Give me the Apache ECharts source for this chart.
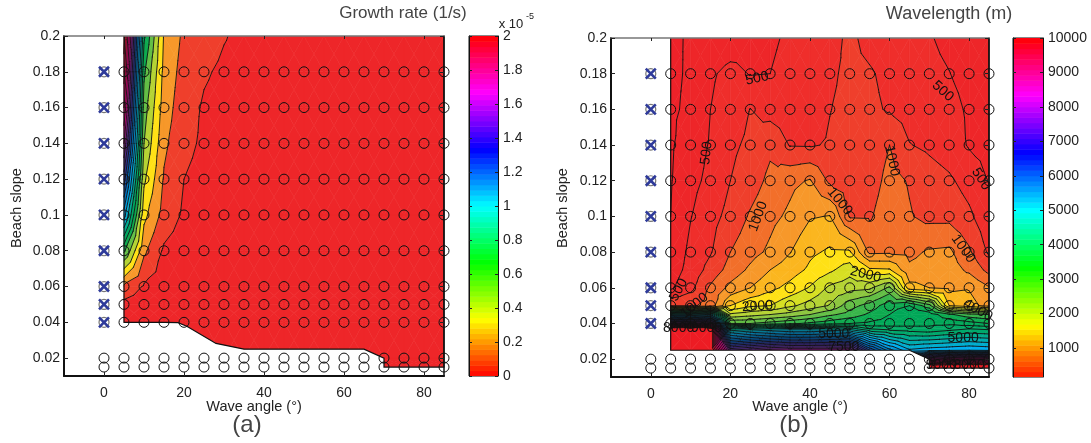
<!DOCTYPE html>
<html><head><meta charset="utf-8">
<style>html,body{margin:0;padding:0;background:#fff}#c{width:1091px;height:443px}</style>
<script src="https://cdn.jsdelivr.net/npm/echarts@6/dist/echarts.min.js"></script>
</head><body><div id="c"></div>
<script>
// ---------- data ----------
const waveAngles = [5,10,15,20,25,30,35,40,45,50,55,60,65,70,75,80,85];
const probeAngles = [0,5,10,15,20,25,30,35,40,45,50,55,60,65,70,75,80,85];
const probeSlopes = [0.015,0.02,0.04,0.05,0.06,0.08,0.1,0.12,0.14,0.16,0.18];
const stableSlopes = [0.04,0.05,0.06,0.08,0.1,0.12,0.14,0.16,0.18];

// (a) growth rate, x 1e-5 1/s
const growthSlopes = [0.015,0.02,0.04,0.05,0.06,0.08,0.1,0.12,0.14,0.16,0.18,0.2];
const g015 = [.03,.03,.03,.03,.03,.03,.03,.03,.03,.03,.03,.03,.03,.03,.03,.03,.03];
const g020 = [.03,.03,.03,.03,.03,.03,.03,.03,.03,.03,.03,.03,.03,.03,.03,.03,.03];
const g040 = [.04,.04,.04,.04,.04,.03,.03,.03,.03,.03,.03,.03,.03,.03,.03,.03,.03];
const g050 = [.07,.05,.04,.04,.04,.03,.03,.03,.03,.03,.03,.03,.03,.03,.03,.03,.03];
const g060 = [.18,.09,.05,.04,.04,.03,.03,.03,.03,.03,.03,.03,.03,.03,.03,.03,.03];
const g080 = [.62,.22,.085,.05,.04,.04,.03,.03,.03,.03,.03,.03,.03,.03,.03,.03,.03];
const g100 = [1.05,.33,.16,.085,.06,.04,.04,.03,.03,.03,.03,.03,.03,.03,.03,.03,.03];
const g120 = [1.35,.42,.19,.1,.07,.05,.04,.04,.03,.03,.03,.03,.03,.03,.03,.03,.03];
const g140 = [1.6,.5,.22,.125,.085,.06,.05,.04,.04,.03,.03,.03,.03,.03,.03,.03,.03];
const g160 = [1.8,.55,.25,.14,.09,.07,.06,.05,.04,.04,.03,.03,.03,.03,.03,.03,.03];
const g180 = [1.95,.62,.27,.16,.11,.085,.07,.05,.04,.04,.04,.03,.03,.03,.03,.03,.03];
const g200 = [2.05,.72,.29,.18,.14,.105,.08,.06,.05,.04,.04,.03,.03,.03,.03,.03,.03];
const growthRows = [g015,g020,g040,g050,g060,g080,g100,g120,g140,g160,g180,g200];
const growthLevels = [.1,.2,.3,.4,.5,.6,.7,.8,.9,1,1.1,1.2,1.3,1.4,1.5,1.6,1.7,1.8,1.9,2];
const growthEdgeAngles = [5,15,18.5,20.7,28,35,65,70,70,85];
const growthEdgeSlopes = [.04,.04,.0398,.0378,.0282,.025,.025,.02,.015,.015];

// (b) wavelength, m
const waveSlopes = [0.015,0.02,0.025,0.037,0.04,0.045,0.05,0.06,0.07,0.08,0.1,0.12,0.14,0.16,0.18,0.2];
const w015 = [10500,10500,10500,10500,10500,10500,10500,10500,10500,10500,10500,10500,10500,11000,11000,11000,11000];
const w020 = [10500,10500,10500,8000,8200,8300,8400,8400,8400,8400,7000,6200,5800,8000,8300,8400,8400];
const w025 = [10500,10500,10500,7500,7700,7900,8000,8000,8000,8000,6500,5600,5050,5150,5200,5250,5200];
const w037 = [10500,10500,10500,4200,4400,4500,4600,4600,4500,4400,4000,3900,3850,3800,3900,4000,3950];
const w040 = [8000,8000,8000,3000,3000,3100,3200,3300,3400,3500,3550,3600,3650,3700,3700,3600,3500];
const w045 = [4600,4600,4800,2300,2400,2500,2600,2750,2950,3100,3300,3500,3700,3650,3300,3100,3000];
const w050 = [950,950,1100,1750,1950,2000,2200,2350,2520,2900,3100,3400,3500,3100,1750,1600,1400];
const w060 = [460,680,1040,1320,1500,1680,1830,2020,2300,2400,2450,2800,1600,1500,1450,1480,1270];
const w070 = [370,590,840,1100,1300,1500,1630,1800,1950,2150,1800,1780,1300,1350,1370,1200,920];
const w080 = [310,560,730,1000,1160,1300,1490,1700,1790,1780,1200,1210,1190,1280,1300,1040,710];
const w100 = [250,490,660,830,1030,1180,1300,1480,1510,980,970,1150,1020,930,930,800,570];
const w120 = [235,430,560,750,880,1060,1190,1270,950,850,880,1080,980,870,790,650,490];
const w140 = [220,380,520,700,800,950,735,730,770,830,830,1000,760,700,620,480,420];
const w160 = [210,300,500,610,755,650,620,640,745,800,790,730,640,590,570,470,400];
const w180 = [205,280,470,560,490,500,540,600,720,790,770,700,620,550,505,430,380];
const w200 = [200,280,340,380,420,480,520,580,680,790,690,640,590,515,450,400,350];
const waveRows = [w015,w020,w025,w037,w040,w045,w050,w060,w070,w080,w100,w120,w140,w160,w180,w200];
const waveLevels = [250,500,750,1000,1250,1500,1750,2000,2250,2500,2750,3000,3250,3500,3750,4000,4250,4500,4750,5000,5250,5500,5750,6000,6250,6500,6750,7000,7250,7500,7750,8000,8250,8500,8750,9000,9250,9500,9750,10000];
const waveEdgeAngles = [5,65,70,70,85];
const waveEdgeSlopes = [.025,.025,.02,.015,.015];

// contour labels of panel (b)
const labelTexts  = ['500','500','500','500','500','1000','1000','1000','1000','1000','2000','2000','4000','5000','7500','5000','8000','9000','9000','8000'];
const labelAngles = [26.7,14,73.4,83,7,60.6,27,47.5,78.5,11,54,26.8,82.2,46,48.5,78.5,7,14,73,80];
const labelSlopes = [.1773,.1355,.1702,.1209,.0589,.1311,.1,.1084,.0819,.05,.0674,.0496,.0474,.0343,.027,.0319,.0373,.0373,.0164,.0164];

const titleA = 'Growth rate (1/s)', titleB = 'Wavelength (m)';
const xName = 'Wave angle (°)', yName = 'Beach slope';
const xTicks = [0,20,40,60,80];
const yTicks = [0.02,0.04,0.06,0.08,0.1,0.12,0.14,0.16,0.18,0.2];
const barTicksA = [0,0.2,0.4,0.6,0.8,1,1.2,1.4,1.6,1.8,2];
const barTicksB = [1000,2000,3000,4000,5000,6000,7000,8000,9000,10000];

// ---------- colours ----------
const paletteV = [0,250,500,750,1000,1250,1500,1750,2000,2250,2500,3000,3333,4000,5000,5500,6000,6667,7500,8333,9000,10000];
const paletteC = ['#EE2229','#EE2629','#EF2E2B','#EF3F2C','#F26F2A','#F7982A','#FBB61F','#FFE116','#D7DF23','#B5D334','#8DC63F','#39B54A','#00A651','#00A86B','#00AEEF','#0081C6','#0060B0','#2E3192','#662D91','#EC008C','#EC0070','#ED1C24'];
function hex(c){return [1,3,5].map(i=>parseInt(c.substr(i,2),16));}
function paletteAt(v){
  if(v<=paletteV[0]) return paletteC[0];
  for(let i=1;i<paletteV.length;i++){
    if(v<=paletteV[i]){
      const t=(v-paletteV[i-1])/(paletteV[i]-paletteV[i-1]),a=hex(paletteC[i-1]),b=hex(paletteC[i]);
      return 'rgb('+a.map((x,k)=>Math.round(x+(b[k]-x)*t)).join(',')+')';
    }
  }
  return paletteC[paletteC.length-1];
}
function hsv(h){
  const s=h*6,i=Math.floor(s)%6,f=s-Math.floor(s);
  const r=[[1,f,0],[1-f,1,0],[0,1,f],[0,1-f,1],[f,0,1],[1,0,1-f]][i];
  return 'rgb('+r.map(x=>Math.round(x*255)).join(',')+')';
}

// ---------- contour geometry ----------
function triangles(xs,ys,rows){
  const out=[];
  for(let j=0;j<ys.length-1;j++)for(let i=0;i<xs.length-1;i++){
    const p=[{x:xs[i],y:ys[j],v:rows[j][i]},{x:xs[i+1],y:ys[j],v:rows[j][i+1]},
             {x:xs[i+1],y:ys[j+1],v:rows[j+1][i+1]},{x:xs[i],y:ys[j+1],v:rows[j+1][i]}];
    const c={x:(xs[i]+xs[i+1])/2,y:(ys[j]+ys[j+1])/2,v:(p[0].v+p[1].v+p[2].v+p[3].v)/4};
    for(let k=0;k<4;k++)out.push([p[k],p[(k+1)%4],c]);
  }
  return out;
}
function cut(a,b,L){const t=(L-a.v)/(b.v-a.v);return {x:a.x+(b.x-a.x)*t,y:a.y+(b.y-a.y)*t,v:L};}
function clip(poly,L,keepAbove){
  const o=[];
  for(let i=0;i<poly.length;i++){
    const a=poly[i],b=poly[(i+1)%poly.length];
    const ia=keepAbove?a.v>=L:a.v<L, ib=keepAbove?b.v>=L:b.v<L;
    if(ia)o.push(a);
    if(ia!==ib)o.push(cut(a,b,L));
  }
  return o;
}
function fillSeries(xs,ys,rows,levels,colorOf,xi,yi){
  const tris=triangles(xs,ys,rows);
  return {type:'custom',xAxisIndex:xi,yAxisIndex:yi,z:2,silent:true,clip:true,data:[[0,0]],
    renderItem(p,api){
      const children=[];
      const edges=[-Infinity].concat(levels,[Infinity]);
      tris.forEach(t=>{
        const lo=Math.min(t[0].v,t[1].v,t[2].v),hi=Math.max(t[0].v,t[1].v,t[2].v);
        for(let b=0;b<edges.length-1;b++){
          if(edges[b+1]<=lo||edges[b]>hi)continue;
          let poly=t;
          if(isFinite(edges[b]))poly=clip(poly,edges[b],true);
          if(poly.length&&isFinite(edges[b+1]))poly=clip(poly,edges[b+1],false);
          if(poly.length<3)continue;
          const col=colorOf(edges[b]);
          children.push({type:'polygon',shape:{points:poly.map(q=>api.coord([q.x,q.y]))},
            style:{fill:col,stroke:col,lineWidth:0.6}});
        }
      });
      return {type:'group',children};
    }};
}
function lineSeries(xs,ys,rows,levels,xi,yi){
  const tris=triangles(xs,ys,rows);
  return {type:'custom',xAxisIndex:xi,yAxisIndex:yi,z:3,silent:true,clip:true,data:[[0,0]],
    renderItem(p,api){
      const children=[];
      tris.forEach(t=>{
        levels.forEach(L=>{
          const pts=[];
          for(let k=0;k<3;k++){
            const a=t[k],b=t[(k+1)%3];
            if((a.v>=L)!==(b.v>=L))pts.push(cut(a,b,L));
          }
          if(pts.length===2){
            const A=api.coord([pts[0].x,pts[0].y]),B=api.coord([pts[1].x,pts[1].y]);
            children.push({type:'line',shape:{x1:A[0],y1:A[1],x2:B[0],y2:B[1]},
              style:{stroke:'#111',lineWidth:0.9,lineCap:'round'}});
          }
        });
      });
      return {type:'group',children};
    }};
}
function maskSeries(ax,sl,xi,yi){
  return {type:'custom',xAxisIndex:xi,yAxisIndex:yi,z:4,silent:true,clip:false,data:[[0,0]],
    renderItem(p,api){
      const low=ax.map((a,i)=>api.coord([a,sl[i]]));
      const poly=[api.coord([3,sl[0]])].concat(low,[api.coord([85,0.0105]),api.coord([3,0.0105])]);
      const line=[api.coord([5,0.2])].concat(low,[api.coord([85,0.2])]);
      return {type:'group',children:[
        {type:'polygon',shape:{points:poly},style:{fill:'#fff'}},
        {type:'polyline',shape:{points:line},style:{stroke:'#111',lineWidth:1.2,fill:null}}
      ]};
    }};
}
function probeSeries(xi,yi){
  const pts=[];
  probeSlopes.forEach(s=>probeAngles.forEach(a=>{ if(!(a===0&&stableSlopes.includes(s))) pts.push([a,s]); }));
  return {type:'scatter',xAxisIndex:xi,yAxisIndex:yi,z:5,silent:true,clip:false,symbol:'circle',symbolSize:10,data:pts,
    itemStyle:{color:'rgba(0,0,0,0)',borderColor:'#111',borderWidth:1,opacity:1}};
}
function stableSeries(xi,yi){
  const pts=stableSlopes.map(s=>[0,s]);
  return [
   {type:'scatter',xAxisIndex:xi,yAxisIndex:yi,z:5,silent:true,symbol:'circle',symbolSize:10,data:pts,
    itemStyle:{color:'rgba(0,0,0,0)',borderColor:'#777',borderWidth:1.2,opacity:1}},
   {type:'scatter',xAxisIndex:xi,yAxisIndex:yi,z:6,silent:true,symbol:'path://M0 0L10 10M10 0L0 10',symbolSize:10,data:pts,
    itemStyle:{color:'rgba(0,0,0,0)',borderColor:'#2E3A9A',borderWidth:2.6,opacity:1}}
  ];
}
const labelRot = [12,83,-42,-58,62,-78,70,-50,-55,40,-14,4,-30,0,0,0,0,0,0,0];
function labelSeries(xi,yi){
  return {type:'custom',xAxisIndex:xi,yAxisIndex:yi,z:7,silent:true,clip:false,data:[[0,0]],
    renderItem(p,api){
      return {type:'group',children:labelTexts.map((t,i)=>{
        const c=api.coord([labelAngles[i],labelSlopes[i]]);
        return {type:'text',x:c[0],y:c[1],rotation:labelRot[i]*Math.PI/180,
          style:{text:t,font:'14px "Liberation Sans"',fill:'#111',align:'center',verticalAlign:'middle'}};
      })};
    }};
}
function barSeries(min,max,top,xi,yi){
  const steps=64;
  return {type:'custom',xAxisIndex:xi,yAxisIndex:yi,z:2,silent:true,clip:true,data:[[0,0]],
    renderItem(p,api){
      const ch=[];
      for(let i=0;i<steps;i++){
        const a=min+(max-min)*i/steps,b=min+(max-min)*(i+1)/steps;
        const A=api.coord([0,a]),B=api.coord([1,b]);
        ch.push({type:'rect',shape:{x:A[0],y:B[1],width:B[0]-A[0],height:A[1]-B[1]+0.5},
          style:{fill:hsv(Math.min(0.9999,((a+b)/2)/top))}});
      }
      return {type:'group',children:ch};
    }};
}

// ---------- axes ----------
const FONT='"Liberation Sans"';
const plain=v=>String(v);
function xBottom(g){return {gridIndex:g,type:'value',min:-10,max:85,position:'bottom',z:10,
  axisLine:{show:true,onZero:false,lineStyle:{color:'#111',width:2}},
  axisTick:{show:true,inside:true,length:4,customValues:xTicks,lineStyle:{color:'#222'}},
  axisLabel:{show:true,customValues:xTicks,margin:10,color:'#222',fontSize:14,fontFamily:FONT,formatter:plain},
  splitLine:{show:false}};}
function xTop(g){return {gridIndex:g,type:'value',min:-10,max:85,position:'top',z:10,
  axisLine:{show:true,onZero:false,lineStyle:{color:'#777',width:1.5}},
  axisTick:{show:true,inside:true,length:3,customValues:xTicks,lineStyle:{color:'#222'}},
  axisLabel:{show:false},splitLine:{show:false}};}
function yLeft(g){return {gridIndex:g,type:'value',min:0.01,max:0.2,position:'left',z:10,
  axisLine:{show:true,onZero:false,lineStyle:{color:'#111',width:2}},
  axisTick:{show:true,inside:true,length:4,customValues:yTicks,lineStyle:{color:'#222'}},
  axisLabel:{show:true,customValues:yTicks,margin:4,color:'#222',fontSize:14,fontFamily:FONT,formatter:plain},
  splitLine:{show:false}};}
function yRight(g){return {gridIndex:g,type:'value',min:0.01,max:0.2,position:'right',z:10,
  axisLine:{show:true,onZero:false,lineStyle:{color:'#111',width:1.5}},
  axisTick:{show:true,inside:true,length:4,customValues:yTicks,lineStyle:{color:'#222'}},
  axisLabel:{show:false},splitLine:{show:false}};}
function xBar(g){return {gridIndex:g,type:'value',min:0,max:1,show:false};}
function yBarRight(g,min,max,t){return {gridIndex:g,type:'value',min,max,position:'right',z:10,
  axisLine:{show:true,onZero:false,lineStyle:{color:'#111',width:1}},
  axisTick:{show:true,inside:true,length:3,customValues:t,lineStyle:{color:'#222'}},
  axisLabel:{show:true,customValues:t,margin:5,color:'#222',fontSize:14,fontFamily:FONT,formatter:plain},
  splitLine:{show:false}};}
function yBarLeft(g,min,max,t){return {gridIndex:g,type:'value',min,max,position:'left',z:10,
  axisLine:{show:true,onZero:false,lineStyle:{color:'#111',width:1}},
  axisTick:{show:true,inside:true,length:3,customValues:t,lineStyle:{color:'#222'}},
  axisLabel:{show:false},splitLine:{show:false}};}

function txt(text,x,y,size,color,extra){
  return Object.assign({type:'text',x,y,z:20,style:{text,font:size+'px "Liberation Sans"',fill:color,align:'center',verticalAlign:'middle'}},extra||{});
}

const chart=echarts.init(document.getElementById('c'));
chart.setOption({
  animation:false,backgroundColor:'#fff',
  grid:[
    {left:64,top:36,width:380,height:340},
    {left:611,top:38,width:378,height:339},
    {left:469,top:36,width:29,height:340,show:true,borderColor:'#111',borderWidth:1,backgroundColor:'transparent'},
    {left:1013,top:38,width:30,height:339,show:true,borderColor:'#111',borderWidth:1,backgroundColor:'transparent'}
  ],
  xAxis:[xBottom(0),xTop(0),xBottom(1),xTop(1),xBar(2),xBar(3)],
  yAxis:[yLeft(0),yRight(0),yLeft(1),yRight(1),
    yBarRight(2,0,2,barTicksA),yBarRight(3,160,10000,barTicksB),
    yBarLeft(2,0,2,barTicksA),yBarLeft(3,160,10000,barTicksB)],
  series:[
    fillSeries(waveAngles,growthSlopes,growthRows,growthLevels,L=>paletteAt(((isFinite(L)?L:0)+0.05)/2*10000),0,0),
    lineSeries(waveAngles,growthSlopes,growthRows,growthLevels,0,0),
    maskSeries(growthEdgeAngles,growthEdgeSlopes,0,0),
    probeSeries(0,0),...stableSeries(0,0),
    fillSeries(waveAngles,waveSlopes,waveRows,waveLevels,L=>paletteAt(isFinite(L)?L:0),2,2),
    lineSeries(waveAngles,waveSlopes,waveRows,waveLevels,2,2),
    maskSeries(waveEdgeAngles,waveEdgeSlopes,2,2),
    probeSeries(2,2),...stableSeries(2,2),
    labelSeries(2,2),
    barSeries(0,2,2,4,4),
    barSeries(160,10000,10000,5,5)
  ],
  graphic:[
    txt(titleA,403,13,17,'#444'),
    txt(titleB,949,14,18,'#444'),
    txt(xName,254,407,14.5,'#222'),
    txt(xName,800,407,14.5,'#222'),
    txt(yName,17,208,14.5,'#222',{rotation:Math.PI/2}),
    txt(yName,563,208,14.5,'#222',{rotation:Math.PI/2}),
    txt('(a)',247,425,24,'#444'),
    txt('(b)',794,425,24,'#444'),
    txt('x 10',511,24,13,'#222'),
    txt('-5',530,17,9,'#222')
  ]
});
</script></body></html>
